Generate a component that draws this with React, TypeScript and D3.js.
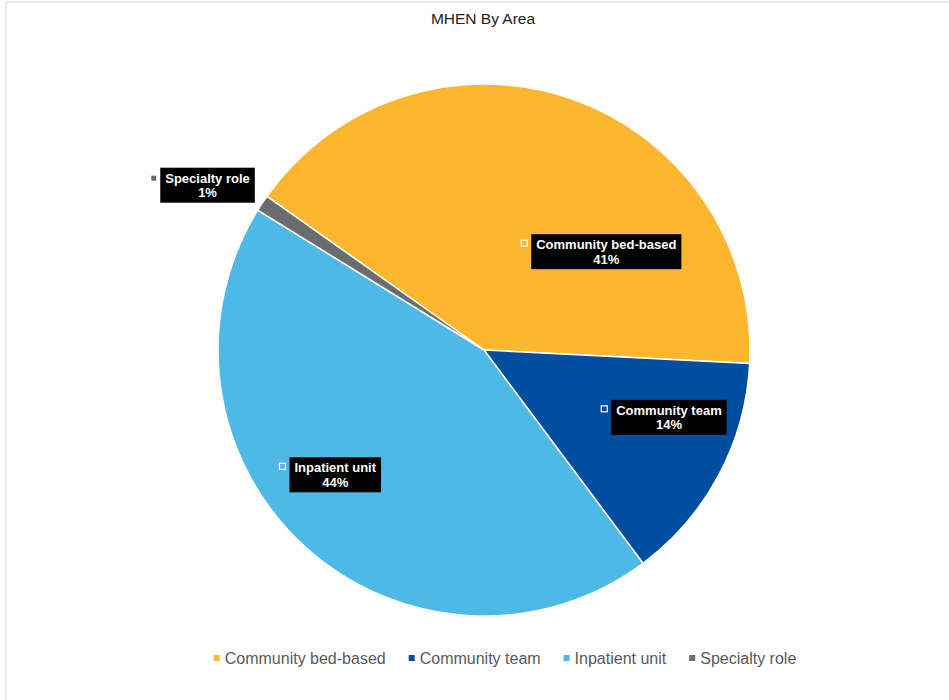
import React from "react";
import * as d3 from "d3";

const categories = ["Community bed-based", "Community team", "Inpatient unit", "Specialty role"];
const values = [41, 14, 44, 1];
const percentLabels = ["41%", "14%", "44%", "1%"];
const colors = ["#FDB62F", "#004EA0", "#4EB8E6", "#6B6C6F"];
// label anchor: fraction of radius and angle (deg, clockwise from top)
const labelRadius = [0.59, 0.74, 0.73, 1.21];
const labelAngle = [51.2, 110, 230, 300.8];
const titleText = "MHEN By Area";

const W = 949;
const H = 700;
const cx = 484;
const cy = 350;
const R = 266;
const startDeg = -54.7;

function measure(text: string, font: string): number {
  const c = document.createElement("canvas");
  const ctx = c.getContext("2d")!;
  ctx.font = font;
  return ctx.measureText(text).width;
}

export default function App() {
  const start = (startDeg * Math.PI) / 180;
  const pie = d3.pie<number>().sort(null).value((d) => d).startAngle(start).endAngle(start + 2 * Math.PI);
  const arcs = pie(values);
  const arc = d3.arc<d3.PieArcDatum<number>>().innerRadius(0).outerRadius(R);

  const labelSize = 13;
  const labelFont = `bold ${labelSize}px 'Liberation Sans', Arial, sans-serif`;
  const legendSize = 16;
  const legendFont = `${legendSize}px 'Liberation Sans', Arial, sans-serif`;

  // legend layout
  const markerW = 6;
  const markerGap = 5;
  const itemGap = 23;
  const widths = categories.map((c) => measure(c, legendFont));
  const itemWidths = widths.map((w) => markerW + markerGap + w);
  const total = d3.sum(itemWidths) + itemGap * (categories.length - 1);
  let lx = 505 - total / 2;
  const legendItems = categories.map((c, i) => {
    const x = lx;
    lx += itemWidths[i] + itemGap;
    return { c, x, color: colors[i] };
  });

  return (
    <svg width={W} height={H} style={{ position: "absolute", left: 0, top: 0, background: "#fff" }}>
      <rect x={0} y={0} width={W} height={H} fill="#fff" />
      <line x1={6} y1={2} x2={W} y2={2} stroke="#e2e2e2" strokeWidth={1.5} />
      <line x1={6} y1={2} x2={6} y2={H} stroke="#e2e2e2" strokeWidth={1.5} />
      <text x={483} y={24} textAnchor="middle" fontFamily="'Liberation Sans', Arial, sans-serif" fontSize={15.5} fill="#222">
        {titleText}
      </text>
      <g transform={`translate(${cx},${cy})`}>
        {arcs.map((a, i) => (
          <path key={i} d={arc(a) || ""} fill={colors[i]} stroke="#fff" strokeWidth={1.5} />
        ))}
      </g>
      {arcs.map((a, i) => {
        const ang = (labelAngle[i] * Math.PI) / 180;
        const px = cx + Math.sin(ang) * R * labelRadius[i];
        const py = cy - Math.cos(ang) * R * labelRadius[i];
        const w1 = measure(categories[i], labelFont);
        const bw = w1 + 10;
        const bh = 35;
        const bx = px - bw / 2;
        const by = py - bh / 2;
        const isOutside = labelRadius[i] > 1;
        return (
          <g key={"l" + i}>
            <rect x={bx} y={by} width={bw} height={bh} fill="#000" />
            {isOutside ? (
              <rect x={bx - 9} y={by + 8} width={5} height={5} fill={colors[i]} />
            ) : (
              <rect x={bx - 10} y={by + 6} width={6} height={6} fill={colors[i]} stroke="#fff" strokeWidth={1.2} />
            )}
            <text x={px} y={by + 15} textAnchor="middle" fontFamily="'Liberation Sans', Arial, sans-serif" fontWeight="bold" fontSize={labelSize} fill="#fff">
              {categories[i]}
            </text>
            <text x={px} y={by + 29.5} textAnchor="middle" fontFamily="'Liberation Sans', Arial, sans-serif" fontWeight="bold" fontSize={labelSize} fill="#fff">
              {percentLabels[i]}
            </text>
          </g>
        );
      })}
      {legendItems.map((it, i) => (
        <g key={"lg" + i}>
          <rect x={it.x} y={655} width={markerW} height={markerW} fill={it.color} />
          <text x={it.x + markerW + markerGap} y={663.5} fontFamily="'Liberation Sans', Arial, sans-serif" fontSize={legendSize} fill="#595959">
            {it.c}
          </text>
        </g>
      ))}
    </svg>
  );
}
